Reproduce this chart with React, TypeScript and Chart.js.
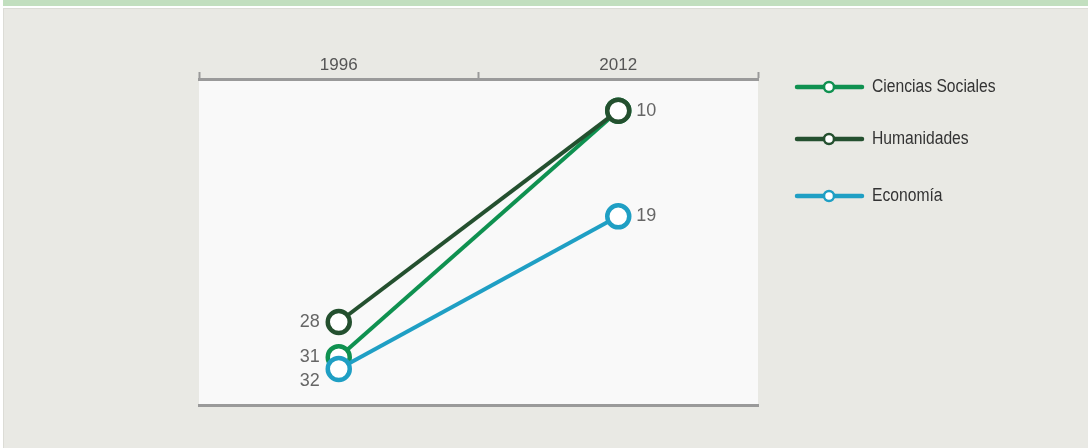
import React, { useEffect, useRef } from 'react';
import { Chart, registerables } from 'chart.js';

Chart.register(...registerables);

const years = ['1996', '2012'];
const seriesNames = ['Ciencias Sociales', 'Humanidades', 'Economía'];
const cienciasSociales = [31, 10];
const humanidades = [28, 10];
const economia = [32, 19];
const seriesColors = ['#0f9150', '#24502f', '#1f9fc4'];

const FONT = "'Liberation Sans', Arial, sans-serif";

const plotBg = {
  id: 'plotBg',
  beforeDraw(chart: any) {
    const { ctx, chartArea } = chart;
    ctx.save();
    ctx.fillStyle = '#f9f9f9';
    ctx.fillRect(chartArea.left, chartArea.top, chartArea.right - chartArea.left, chartArea.bottom - chartArea.top);
    ctx.restore();
  },
};

const endLabels = {
  id: 'endLabels',
  afterDatasetsDraw(chart: any) {
    const { ctx } = chart;
    const seen = new Set<string>();
    ctx.save();
    ctx.font = `18px ${FONT}`;
    ctx.fillStyle = '#666';
    ctx.textBaseline = 'middle';
    chart.data.datasets.forEach((ds: any, i: number) => {
      const meta = chart.getDatasetMeta(i);
      meta.data.forEach((pt: any, j: number) => {
        const v = ds.data[j];
        const key = `${j}-${v}`;
        if (seen.has(key)) return;
        seen.add(key);
        const dy = j === 0 ? (ds.labelDy || 0) : 0;
        if (j === 0) {
          ctx.textAlign = 'right';
          ctx.fillText(String(v), pt.x - 19, pt.y + dy);
        } else {
          ctx.textAlign = 'left';
          ctx.fillText(String(v), pt.x + 18, pt.y + dy);
        }
      });
    });
    ctx.restore();
  },
};

const sideLegend = {
  id: 'sideLegend',
  afterDraw(chart: any, _args: any, opts: any) {
    const { ctx } = chart;
    chart.data.datasets.forEach((ds: any, i: number) => {
      const y = opts.rows[i];
      const x0 = opts.x;
      ctx.save();
      ctx.strokeStyle = ds.borderColor;
      ctx.lineWidth = 4.5;
      ctx.lineCap = 'round';
      ctx.beginPath();
      ctx.moveTo(x0 + 2, y);
      ctx.lineTo(x0 + 67, y);
      ctx.stroke();
      ctx.beginPath();
      ctx.arc(x0 + 34, y, 5, 0, Math.PI * 2);
      ctx.fillStyle = '#fff';
      ctx.fill();
      ctx.lineWidth = 2.5;
      ctx.stroke();
      ctx.fillStyle = '#333';
      ctx.font = `18px ${FONT}`;
      ctx.textAlign = 'left';
      ctx.textBaseline = 'middle';
      ctx.translate(x0 + 77, y);
      ctx.scale(0.87, 1);
      ctx.fillText(ds.label, 0, 0);
      ctx.restore();
    });
  },
};

export default function App() {
  const ref = useRef<HTMLCanvasElement>(null);

  useEffect(() => {
    if (!ref.current) return;
    const values = [cienciasSociales, humanidades, economia];
    const orders = [3, 1, 2];
    const labelDy = [0, 0, 12];
    const chart = new Chart(ref.current, {
      type: 'line',
      data: {
        labels: years,
        datasets: seriesNames.map((name, i) => ({
          label: name,
          data: values[i],
          borderColor: seriesColors[i],
          backgroundColor: seriesColors[i],
          borderWidth: 4,
          pointRadius: 11,
          pointHoverRadius: 11,
          pointBorderWidth: 4.5,
          pointBackgroundColor: '#ffffff',
          pointBorderColor: seriesColors[i],
          order: orders[i],
          labelDy: labelDy[i],
          xAxisID: 'x',
        })) as any,
      },
      options: {
        responsive: false,
        animation: false,
        devicePixelRatio: 1,
        layout: { padding: { left: 199, right: 330, top: 0, bottom: 0 } },
        plugins: {
          legend: { display: false },
          tooltip: { enabled: false },
          sideLegend: { x: 795, rows: [87, 139, 196] },
        } as any,
        scales: {
          x: {
            type: 'category',
            position: 'top',
            offset: true,
            grid: {
              offset: true,
              drawOnChartArea: false,
              drawTicks: true,
              tickLength: 7,
              tickWidth: 2,
              tickColor: '#9a9a9a',
              color: '#9a9a9a',
            },
            border: { display: true, color: '#9a9a9a', width: 3 },
            ticks: { color: '#555', font: { family: FONT, size: 17 }, padding: -4 },
            afterFit: (s: any) => { s.height = 79; },
          },
          x2: {
            type: 'category',
            position: 'bottom',
            offset: true,
            labels: years,
            grid: { display: false },
            border: { display: true, color: '#9a9a9a', width: 3 },
            ticks: { display: false },
            afterFit: (s: any) => { s.height = 43; },
          },
          y: {
            type: 'linear',
            display: false,
            reverse: true,
            min: 7.3,
            max: 35.07,
          },
        },
      },
      plugins: [plotBg, endLabels, sideLegend],
    });
    return () => chart.destroy();
  }, []);

  return (
    <div style={{ position: 'fixed', left: 0, top: 0, width: 1088, height: 448, background: '#ffffff', overflow: 'hidden' }}>
      <div style={{ position: 'absolute', left: 3, top: 0, right: 0, height: 6, background: '#c2dfbf' }} />
      <div style={{ position: 'absolute', left: 3, top: 8, right: 0, bottom: 0, background: '#e9e9e4', borderLeft: '1px solid #dcdcd6', borderTop: '1px solid #dcdcd6' }} />
      <canvas ref={ref} width={1088} height={448} style={{ position: 'absolute', left: 0, top: 0, width: 1088, height: 448 }} />
    </div>
  );
}
